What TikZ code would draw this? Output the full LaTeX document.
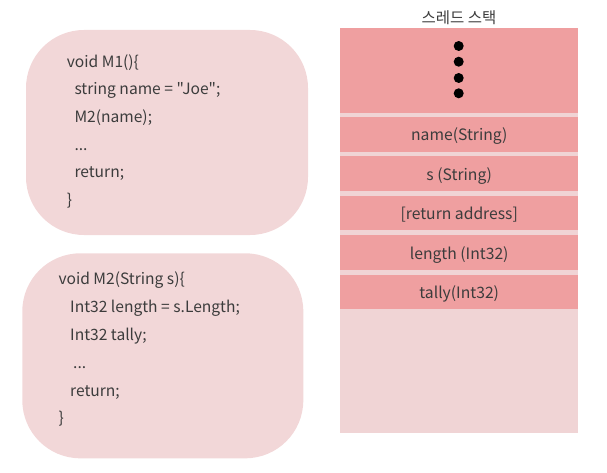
\documentclass[tikz,border=0pt]{standalone}
\usepackage{fontspec}
\setmainfont{Noto Sans CJK KR}[Ligatures=TeXOff]
\usetikzlibrary{positioning}
\definecolor{codefill}{HTML}{F2D7D8}
\definecolor{stackdark}{HTML}{EF9FA0}
\definecolor{stacklight}{HTML}{F0D4D5}
\definecolor{inktext}{HTML}{3C3C3C}
\newcommand\codedots{...}
\tikzset{
  codebox/.style={fill=codefill, rounded corners=58pt, inner sep=0pt,
    minimum width=282pt, minimum height=205pt},
  codeline/.style={anchor=base west, inner sep=0pt, text=inktext,
    font=\fontsize{15.6}{18}\selectfont},
  slot/.style={fill=stackdark, minimum width=238pt, minimum height=34.7pt,
    inner sep=0pt, text height=15pt, text depth=1.5pt, text=inktext,
    font=\fontsize{15.7}{18}\selectfont},
}
\begin{document}
\begin{tikzpicture}[x=1pt, y=-1pt]
  \useasboundingbox (0,0) rectangle (607,473);
  % code of the two methods
  \node[codebox] (mone) at (167,132.5) {};
  \foreach \x/\txt [count=\i] in {66.7/void M1()\{, 74.3/string name = "Joe";,
      74.3/M2(name);, 74.3/\codedots, 74.3/return;, 66.7/\}}
    \node[codeline] (mone-\i) at (\x, 39.5+27.7*\i) {\txt};
  \node[codebox, minimum width=281pt] (mtwo) at (162.8,355.8) {};
  \foreach \x/\txt [count=\i] in {58.3/void M2(String s)\{, 70/Int32 length = s.Length;,
      70/Int32 tally;, 73/\codedots, 70/return;, 58.3/\}}
    \node[codeline] (mtwo-\i) at (\x, 256.5+27.9*\i) {\txt};
  % thread stack
  \node[text=inktext, font=\fontsize{15.5}{17}\selectfont] (title) at (459,17.5) {스레드 스택};
  \node[fill=stacklight, minimum width=238pt, minimum height=405pt, inner sep=0pt,
    anchor=north west] (stack) at (340,28) {};
  \node[slot, minimum height=85pt, anchor=north] (top) at (stack.north) {};
  \foreach \y in {46,61.7,78,93.3}
    \fill (458.7,\y) circle (5pt);
  \node[slot, below=3.3pt of top] (name) {name(String)};
  \node[slot, below=4.3pt of name] (s) {s (String)};
  \node[slot, below=4.3pt of s] (ret) {[return address]};
  \node[slot, below=4.3pt of ret] (length) {length (Int32)};
  \node[slot, below=4.3pt of length] (tally) {tally(Int32)};
\end{tikzpicture}
\end{document}
